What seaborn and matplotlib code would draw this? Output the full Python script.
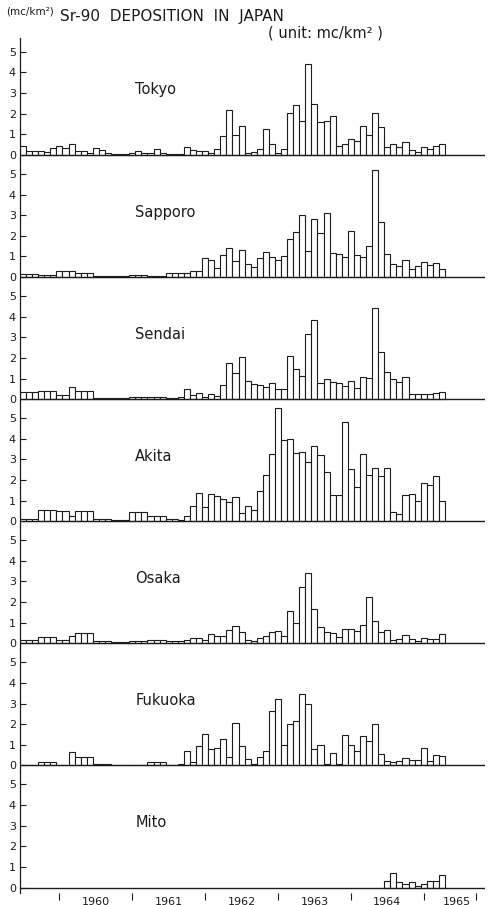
import numpy as np
import pandas as pd
import matplotlib
matplotlib.use("Agg")
import matplotlib.pyplot as plt
import seaborn as sns

# monthly Sr-90 deposition, July 1959 (month 0) to April 1965 (month 69), mc/km2
months = list(range(70))

tokyo = [0.42, 0.2, 0.2, 0.17, 0.15, 0.35, 0.45, 0.35, 0.52, 0.2,
         0.2, 0.1, 0.35, 0.25, 0.1, 0.05, 0.05, 0.05, 0.1, 0.2,
         0.1, 0.1, 0.3, 0.1, 0.03, 0.03, 0.05, 0.37, 0.25, 0.2,
         0.2, 0.1, 0.27, 0.92, 2.2, 0.95, 1.42, 0.1, 0.15, 0.3,
         1.25, 0.52, 0.1, 0.28, 2.05, 2.4, 1.65, 4.4, 2.45, 1.62,
         1.65, 1.88, 0.44, 0.53, 0.78, 0.7, 1.4, 0.97, 2.05, 1.34,
         0.39, 0.52, 0.4, 0.63, 0.24, 0.15, 0.39, 0.28, 0.44, 0.55]

sapporo = [0.15, 0.15, 0.15, 0.12, 0.12, 0.12, 0.27, 0.27, 0.27, 0.2,
           0.2, 0.2, 0.03, 0.03, 0.03, 0.07, 0.07, 0.07, 0.12, 0.12,
           0.12, 0.05, 0.05, 0.05, 0.18, 0.18, 0.18, 0.2, 0.3, 0.3,
           0.9, 0.85, 0.42, 1.05, 1.4, 0.8, 1.3, 0.63, 0.5, 0.94,
           1.2, 0.95, 0.85, 1.0, 1.85, 2.2, 3.0, 1.25, 2.8, 2.15,
           3.1, 1.15, 1.1, 0.95, 2.25, 1.08, 0.97, 1.5, 5.2, 2.65,
           1.13, 0.63, 0.55, 0.83, 0.38, 0.55, 0.73, 0.6, 0.68, 0.38]

sendai = [0.37, 0.37, 0.37, 0.4, 0.4, 0.4, 0.2, 0.2, 0.6, 0.4,
          0.4, 0.4, 0.05, 0.05, 0.05, 0.05, 0.05, 0.05, 0.1, 0.1,
          0.1, 0.1, 0.1, 0.1, 0.05, 0.05, 0.1, 0.47, 0.18, 0.3,
          0.1, 0.27, 0.15, 0.68, 1.75, 1.25, 2.05, 0.86, 0.71, 0.68,
          0.6, 0.78, 0.47, 0.47, 2.07, 1.44, 1.13, 3.14, 3.84, 0.8,
          0.99, 0.81, 0.78, 0.66, 0.86, 0.53, 1.08, 1.02, 4.4, 2.28,
          1.34, 1.0, 0.81, 1.08, 0.26, 0.23, 0.23, 0.23, 0.3, 0.37]

akita = [0.1, 0.1, 0.1, 0.53, 0.53, 0.53, 0.5, 0.5, 0.25, 0.48,
         0.48, 0.48, 0.1, 0.1, 0.1, 0.05, 0.05, 0.05, 0.43, 0.43,
         0.43, 0.23, 0.23, 0.23, 0.12, 0.12, 0.07, 0.25, 0.73, 1.36,
         0.68, 1.34, 1.2, 1.1, 0.92, 1.18, 0.4, 0.76, 0.53, 1.49,
         2.23, 3.28, 5.47, 3.95, 4.01, 3.33, 3.38, 2.86, 3.67, 3.2,
         2.41, 1.25, 1.29, 4.79, 2.51, 1.65, 3.25, 2.23, 2.57, 2.18,
         2.6, 0.47, 0.36, 1.26, 1.33, 0.99, 1.86, 1.75, 2.18, 1.0]

osaka = [0.18, 0.18, 0.18, 0.3, 0.3, 0.3, 0.15, 0.15, 0.37, 0.52,
         0.52, 0.52, 0.1, 0.1, 0.1, 0.05, 0.05, 0.05, 0.13, 0.13,
         0.13, 0.18, 0.18, 0.18, 0.1, 0.1, 0.1, 0.18, 0.24, 0.27,
         0.18, 0.47, 0.37, 0.37, 0.66, 0.86, 0.57, 0.18, 0.11, 0.24,
         0.37, 0.53, 0.58, 0.34, 1.55, 1.0, 2.75, 3.43, 1.67, 0.81,
         0.55, 0.5, 0.32, 0.71, 0.68, 0.62, 0.89, 2.25, 1.07, 0.57,
         0.63, 0.15, 0.19, 0.39, 0.21, 0.13, 0.27, 0.21, 0.23, 0.45]

fukuoka = [0, 0, 0, 0.16, 0.16, 0.16, 0, 0, 0.63, 0.39,
           0.39, 0.39, 0.05, 0.05, 0.05, 0, 0, 0, 0, 0,
           0, 0.18, 0.18, 0.18, 0, 0, 0.08, 0.71, 0.19, 0.92,
           1.54, 0.81, 0.86, 1.28, 0.39, 2.07, 0.94, 0.31, 0.06, 0.39,
           0.68, 2.65, 3.24, 1.0, 2.02, 2.15, 3.45, 2.99, 0.78, 0.97,
           0.05, 0.62, 0.05, 1.47, 1.0, 0.68, 1.44, 1.17, 2.0, 0.55,
           0.2, 0.15, 0.2, 0.36, 0.28, 0.25, 0.84, 0.2, 0.49, 0.44]

# Mito only reported from mid-1964
mito_months = months[60:]
mito = [0.3, 0.7, 0.25, 0.15, 0.25, 0.08, 0.15, 0.3, 0.3, 0.6]

cities = ["Tokyo", "Sapporo", "Sendai", "Akita", "Osaka", "Fukuoka", "Mito"]
series = [(months, tokyo), (months, sapporo), (months, sendai), (months, akita),
          (months, osaka), (months, fukuoka), (mito_months, mito)]

year_ticks = [6, 18, 30, 42, 54, 66, 74.6]
year_label_pos = [12, 24, 36, 48, 60, 71.5]
year_labels = ["1960", "1961", "1962", "1963", "1964", "1965"]

sns.set_theme(style="white")
plt.rcParams["font.family"] = ["DejaVu Sans"]

W, H = 503, 905
fig = plt.figure(figsize=(W / 100, H / 100), dpi=100)

ink = "#1c1c1c"
top0 = 38.0
ph = 122.1
for k, (city, (xm, vals)) in enumerate(zip(cities, series)):
    top = top0 + ph * k
    ax = fig.add_axes([20 / W, 1 - (top + ph) / H, 465 / W, ph / H])
    df = pd.DataFrame({"month": xm, "dep": vals})
    sns.barplot(data=df, x="month", y="dep", ax=ax, native_scale=True,
                width=1.0, color="white", edgecolor=ink, linewidth=0.8,
                errorbar=None, saturation=1)
    ax.set_xlim(-0.5, 76.1)
    ax.set_ylim(-0.25, 5.67)
    ax.axhline(0, color=ink, lw=1.0, zorder=3)
    for s in ["top", "right", "bottom"]:
        ax.spines[s].set_visible(False)
    ax.spines["left"].set_color(ink)
    ax.spines["left"].set_linewidth(0.9)
    ax.set_yticks([0, 1, 2, 3, 4, 5])
    ax.tick_params(axis="y", direction="in", length=4, width=0.8, colors=ink,
                   labelsize=8, pad=3, left=True)
    ax.set_ylabel("")
    ax.set_xlabel("")
    ax.text(18.5, 3.15, city, fontsize=10.5, ha="left", va="center", color=ink)
    if k < len(cities) - 1:
        ax.set_xticks([])
    else:
        ax.set_xticks(year_ticks)
        ax.set_xticklabels([])
        ax.tick_params(axis="x", direction="out", length=5, width=0.8,
                       colors=ink, bottom=True)
        for pos, lab in zip(year_label_pos, year_labels):
            ax.text(pos, -0.45, lab, fontsize=8, ha="center", va="top",
                    color=ink)

fig.text(60 / W, 1 - 16 / H, "Sr-90  DEPOSITION  IN  JAPAN", fontsize=11,
         ha="left", va="center", color=ink)
fig.text(268 / W, 1 - 33 / H, "( unit: mc/km² )", fontsize=10.5,
         ha="left", va="center", color=ink)
fig.text(6 / W, 1 - 12 / H, "(mc/km²)", fontsize=7.5,
         ha="left", va="center", color=ink)

fig.savefig("out.png", dpi=100)
